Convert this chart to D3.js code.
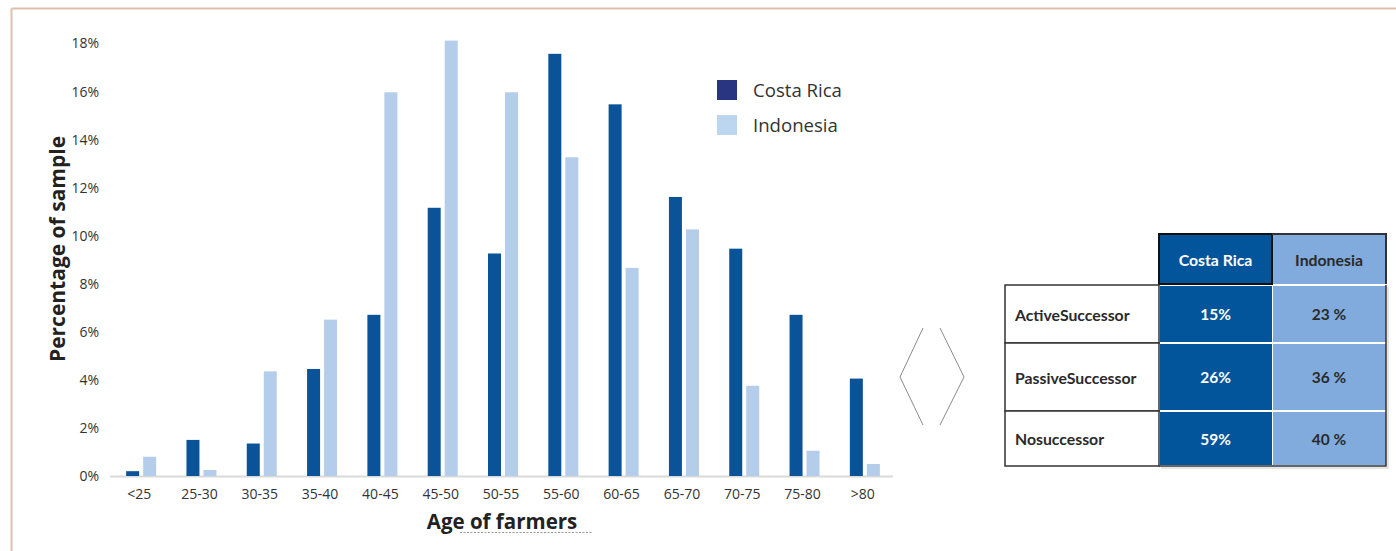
<!DOCTYPE html>
<html>
<head>
<meta charset="utf-8">
<script src="https://cdn.jsdelivr.net/npm/d3@7/dist/d3.min.js"></script>
<style>
  html, body { margin: 0; padding: 0; background: #fff; }
  svg { display: block; }
</style>
</head>
<body>
<svg id="chart" width="1396" height="551"></svg>
<script>
// Age distribution of farmers (share of sample, %)
const ageGroups = ["<25", "25-30", "30-35", "35-40", "40-45", "45-50", "50-55", "55-60", "60-65", "65-70", "70-75", "75-80", ">80"];
const costaRica = [0.2, 1.5, 1.35, 4.45, 6.7, 11.15, 9.25, 17.55, 15.45, 11.6, 9.45, 6.7, 4.05];
const indonesia = [0.8, 0.25, 4.35, 6.5, 15.95, 18.1, 15.95, 13.25, 8.65, 10.25, 3.75, 1.05, 0.5];
const seriesNames = ["Costa Rica", "Indonesia"];
const yTicks = [0, 2, 4, 6, 8, 10, 12, 14, 16, 18];

// Succession status table
const successionRows = ["ActiveSuccessor", "PassiveSuccessor", "Nosuccessor"];
const successionCR = ["15%", "26%", "59%"];
const successionID = ["23 %", "36 %", "40 %"];

const svg = d3.select("#chart");
const W = 1396, H = 551;
const tickFont = "'Open Sans', 'Noto Sans', sans-serif";
const tableFont = "Lato, 'Open Sans', sans-serif";

// outer frame (top and left edges)
svg.append("line").attr("x1", 11.5).attr("x2", W).attr("y1", 8.5).attr("y2", 8.5)
  .attr("stroke", "#dfc0aa").attr("stroke-width", 2);
svg.append("line").attr("x1", 11.5).attr("x2", 11.5).attr("y1", 8.5).attr("y2", H)
  .attr("stroke", "#dfc0aa").attr("stroke-width", 2);

// scales
const x = d3.scaleBand().domain(ageGroups).range([111, 895]).paddingInner(0).paddingOuter(0);
const y = d3.scaleLinear().domain([0, 18]).range([476, 43]);
const barW = 13, gap = 4;
const colors = { cr: "#0b5399", id: "#b3cdeb" };

// baseline
svg.append("line").attr("x1", 110).attr("x2", 893).attr("y1", y(0) + 0.5).attr("y2", y(0) + 0.5)
  .attr("stroke", "#d9d9d9").attr("stroke-width", 2);

// bars
const groups = svg.append("g").selectAll("g").data(ageGroups).join("g")
  .attr("transform", d => `translate(${x(d) + x.bandwidth() / 2},0)`);
groups.append("rect")
  .attr("x", -(barW + gap / 2)).attr("width", barW)
  .attr("y", (d, i) => y(costaRica[i])).attr("height", (d, i) => y(0) - y(costaRica[i]))
  .attr("fill", colors.cr);
groups.append("rect")
  .attr("x", gap / 2).attr("width", barW)
  .attr("y", (d, i) => y(indonesia[i])).attr("height", (d, i) => y(0) - y(indonesia[i]))
  .attr("fill", colors.id);

// y axis (labels only)
const yAxis = d3.axisLeft(y).tickValues(yTicks).tickFormat(d => d + "%").tickSize(0).tickPadding(0);
const gy = svg.append("g").attr("transform", "translate(99,0)").call(yAxis);
gy.select(".domain").remove();
gy.selectAll("text").attr("font-family", tickFont).attr("font-size", 14).attr("fill", "#333").attr("dy", "0.35em");

// x axis (labels only)
const xAxis = d3.axisBottom(x).tickSize(0).tickPadding(0);
const gx = svg.append("g").attr("transform", "translate(-2,489)").call(xAxis);
gx.select(".domain").remove();
gx.selectAll("text").attr("font-family", tickFont).attr("font-size", 14).attr("fill", "#333").attr("dy", "0.71em");

// axis titles
svg.append("text").attr("transform", "translate(65,249) rotate(-90)")
  .attr("text-anchor", "middle").attr("font-family", tickFont).attr("font-weight", "bold")
  .attr("font-size", 21).attr("fill", "#222").text("Percentage of sample");
svg.append("text").attr("x", 502).attr("y", 529)
  .attr("text-anchor", "middle").attr("font-family", tickFont).attr("font-weight", "bold")
  .attr("font-size", 20.5).attr("fill", "#222").text("Age of farmers");
svg.append("line").attr("x1", 460).attr("x2", 592).attr("y1", 532.5).attr("y2", 532.5)
  .attr("stroke", "#999").attr("stroke-width", 1).attr("stroke-dasharray", "2,1.5");

// legend
const legend = svg.append("g").attr("transform", "translate(717,80)");
const legendColors = ["#2a3581", "#bcd6f0"];
seriesNames.forEach((name, i) => {
  legend.append("rect").attr("x", 0).attr("y", i * 35).attr("width", 20).attr("height", 20).attr("fill", legendColors[i]);
  legend.append("text").attr("x", 36).attr("y", i * 35 + 10).attr("dy", "0.35em")
    .attr("font-family", tickFont).attr("font-size", 18.6).attr("fill", "#333").text(name);
});

// chevrons between chart and table
const chev = d3.line();
svg.append("path").attr("d", chev([[923, 328], [900, 377], [923, 425]]))
  .attr("fill", "none").attr("stroke", "#8a8a8a").attr("stroke-width", 1);
svg.append("path").attr("d", chev([[940, 328], [964, 377], [940, 425]]))
  .attr("fill", "none").attr("stroke", "#8a8a8a").attr("stroke-width", 1);

// succession table
const colX = [1005, 1159, 1272, 1386];
const rowY = [234, 285, 343, 411, 466];
const tableColors = { cr: "#02559b", id: "#80abdc" };
const tg = svg.append("g");

// header cells
tg.append("rect").attr("x", colX[1]).attr("y", rowY[0]).attr("width", colX[2] - colX[1]).attr("height", rowY[1] - rowY[0] - 1)
  .attr("fill", tableColors.cr).attr("stroke", "#111").attr("stroke-width", 2);
tg.append("rect").attr("x", colX[2] + 1).attr("y", rowY[0]).attr("width", colX[3] - colX[2] - 1).attr("height", rowY[1] - rowY[0] - 1)
  .attr("fill", tableColors.id);
tg.append("path").attr("d", `M${colX[2]},${rowY[0]}H${colX[3]}V${rowY[1] - 1}`)
  .attr("fill", "none").attr("stroke", "#333").attr("stroke-width", 2);
tg.append("text").attr("x", (colX[1] + colX[2]) / 2).attr("y", (rowY[0] + rowY[1]) / 2 + 1).attr("dy", "0.35em")
  .attr("text-anchor", "middle").attr("font-family", tableFont).attr("font-weight", "bold").attr("font-size", 15.8)
  .attr("fill", "#fff").text(seriesNames[0]);
tg.append("text").attr("x", (colX[2] + colX[3]) / 2).attr("y", (rowY[0] + rowY[1]) / 2 + 1).attr("dy", "0.35em")
  .attr("text-anchor", "middle").attr("font-family", tableFont).attr("font-weight", "bold").attr("font-size", 15.8)
  .attr("fill", "#2a2a2a").text(seriesNames[1]);

// body rows
successionRows.forEach((label, i) => {
  const y0 = rowY[i + 1], y1 = rowY[i + 2], yc = (y0 + y1) / 2 + 1;
  tg.append("rect").attr("x", colX[0]).attr("y", y0).attr("width", colX[1] - colX[0]).attr("height", y1 - y0)
    .attr("fill", "#fff").attr("stroke", "#333").attr("stroke-width", 1.5);
  tg.append("rect").attr("x", colX[1] + 1).attr("y", y0 + 1).attr("width", colX[2] - colX[1] - 1).attr("height", y1 - y0 - 2)
    .attr("fill", tableColors.cr);
  tg.append("rect").attr("x", colX[2] + 1).attr("y", y0 + 1).attr("width", colX[3] - colX[2] - 1).attr("height", y1 - y0 - 2)
    .attr("fill", tableColors.id);
  tg.append("text").attr("x", colX[0] + 10).attr("y", yc).attr("dy", "0.35em")
    .attr("font-family", tableFont).attr("font-weight", "bold").attr("font-size", 15.8)
    .attr("fill", "#2a2a2a").text(label);
  tg.append("text").attr("x", (colX[1] + colX[2]) / 2).attr("y", yc).attr("dy", "0.35em")
    .attr("text-anchor", "middle").attr("font-family", tableFont).attr("font-weight", "bold").attr("font-size", 15.5)
    .attr("fill", "#fff").text(successionCR[i]);
  tg.append("text").attr("x", (colX[2] + colX[3]) / 2).attr("y", yc).attr("dy", "0.35em")
    .attr("text-anchor", "middle").attr("font-family", tableFont).attr("font-weight", "bold").attr("font-size", 15.5)
    .attr("fill", "#2a2a2a").text(successionID[i]);
});
// outer right / bottom edges of the body
tg.append("path").attr("d", `M${colX[1]},${rowY[4]}H${colX[3]}V${rowY[1]}`)
  .attr("fill", "none").attr("stroke", "#333").attr("stroke-width", 1.5);
tg.append("path").attr("d", `M${colX[1] + 2},${rowY[4] + 2}H${colX[3] + 2}V${rowY[1] + 2}`)
  .attr("fill", "none").attr("stroke", "#ddd").attr("stroke-width", 1.5);
</script>
</body>
</html>
